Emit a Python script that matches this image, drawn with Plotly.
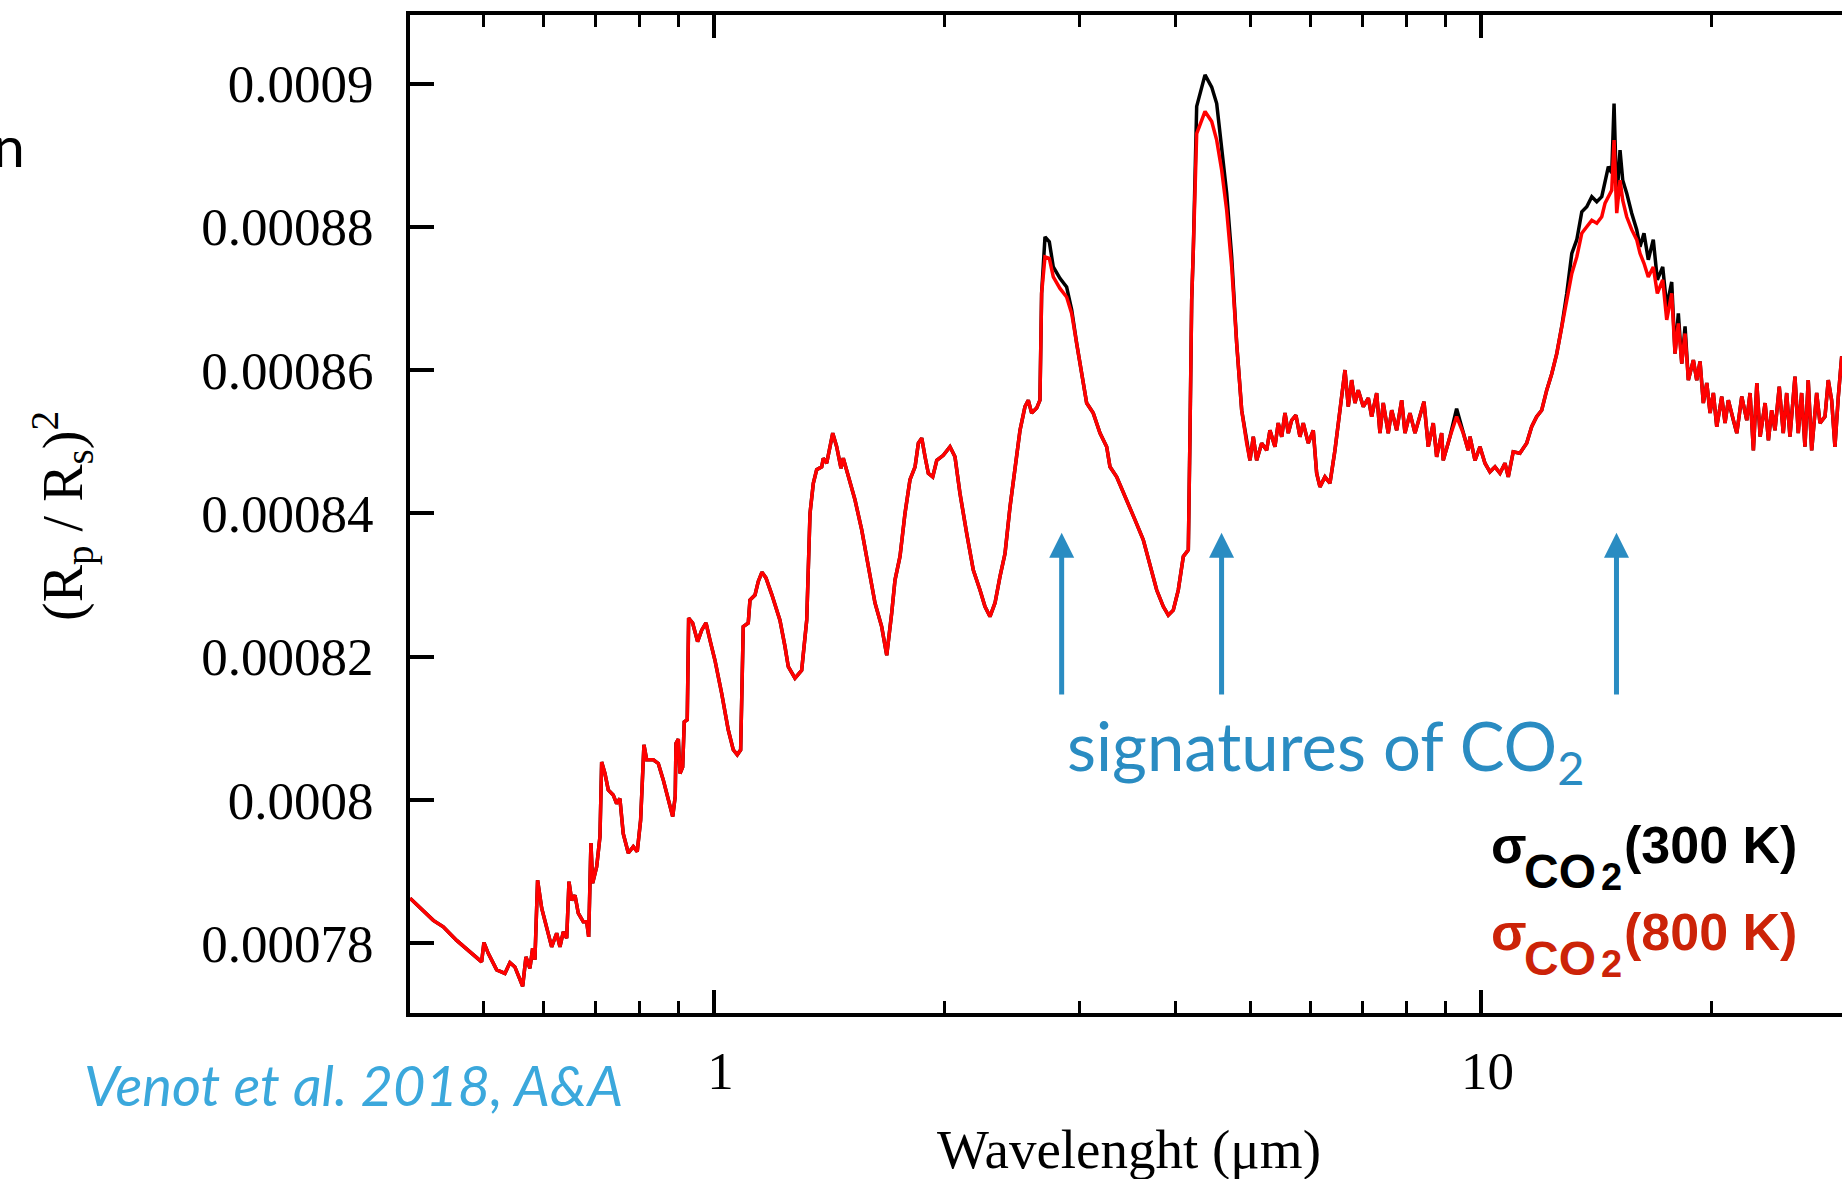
import math
import numpy as np
import plotly.graph_objects as go

# Transit depth spectrum of a warm exoplanet atmosphere computed with two CO2 cross sections
wavelength_um = [
    0.4016, 0.4306, 0.4437, 0.4619, 0.4807, 0.4978, 0.5013, 0.5078, 0.5208, 0.5339,
    0.5420, 0.5501, 0.5631, 0.5687, 0.5755, 0.5802, 0.5842, 0.5889, 0.5962, 0.6052,
    0.6143, 0.6236, 0.6298, 0.6361, 0.6427, 0.6471, 0.6524, 0.6589, 0.6654, 0.6755,
    0.6824, 0.6865, 0.6912, 0.6948, 0.7032, 0.7102, 0.7138, 0.7209, 0.7281, 0.7390,
    0.7466, 0.7540, 0.7616, 0.7732, 0.7849, 0.7943, 0.8024, 0.8104, 0.8171, 0.8335,
    0.8461, 0.8588, 0.8718, 0.8835, 0.8902, 0.8922, 0.8985, 0.9030, 0.9103, 0.9147,
    0.9229, 0.9268, 0.9380, 0.9521, 0.9638, 0.9764, 0.9881, 1.003, 1.0233, 1.0438,
    1.0597, 1.0724, 1.0834, 1.0919, 1.1084, 1.1141, 1.1310, 1.1423, 1.1550, 1.1689,
    1.1902, 1.2190, 1.2377, 1.2500, 1.2753, 1.3012, 1.3211, 1.3342, 1.3475, 1.3612,
    1.3818, 1.3885, 1.4027, 1.4284, 1.4454, 1.4642, 1.4743, 1.4966, 1.5270, 1.5582,
    1.5894, 1.6216, 1.6544, 1.6797, 1.7050, 1.7220, 1.7480, 1.7744, 1.8012, 1.8289,
    1.8471, 1.8659, 1.8845, 1.9032, 1.9284, 1.9521, 1.9907, 2.0310, 2.0617, 2.0927,
    2.1356, 2.1783, 2.2225, 2.2560, 2.2900, 2.3250, 2.3602, 2.3958, 2.4320, 2.4687,
    2.5061, 2.5439, 2.5692, 2.5954, 2.6346, 2.6607, 2.6742, 2.7014, 2.7365, 2.7695,
    2.8255, 2.8826, 2.9268, 2.9710, 3.0158, 3.0613, 3.1224, 3.1863, 3.2509, 3.2833,
    3.3497, 3.4523, 3.5394, 3.6284, 3.7018, 3.7776, 3.8534, 3.9117, 3.9704, 4.0304,
    4.0920, 4.1538, 4.1749, 4.1961, 4.2165, 4.2594, 4.3676, 4.4560, 4.5233, 4.5915,
    4.6609, 4.7315, 4.8030, 4.8756, 4.9493, 4.9987, 5.0484, 5.0999, 5.1770, 5.2552,
    5.3074, 5.3874, 5.4411, 5.4977, 5.5524, 5.6077, 5.6649, 5.7385, 5.8076, 5.8654,
    5.9540, 6.0445, 6.1061, 6.1669, 6.2600, 6.3551, 6.4509, 6.5495, 6.6484, 6.7143,
    6.7827, 6.8502, 6.9183, 7.0243, 7.1302, 7.2029, 7.3114, 7.3842, 7.4577, 7.5703,
    7.6492, 7.7647, 7.8817, 7.9602, 8.0804, 8.2035, 8.3273, 8.4276, 8.5370, 8.6659,
    8.7542, 8.8862, 8.9293, 9.1105, 9.2951, 9.4811, 9.6242, 9.6755, 9.8220, 9.9701,
    10.121, 10.273, 10.430, 10.588, 10.747, 10.854, 11.017, 11.240, 11.470, 11.644,
    11.819, 12.000, 12.182, 12.368, 12.555, 12.744, 12.937, 13.135, 13.333, 13.535,
    13.739, 13.947, 14.157, 14.371, 14.514, 14.659, 14.808, 14.911, 15.032, 15.181,
    15.304, 15.488, 15.723, 15.960, 16.119, 16.313, 16.525, 16.775, 16.981, 17.257,
    17.465, 17.729, 17.906, 18.085, 18.272, 18.454, 18.637, 18.919, 19.112, 19.302,
    19.494, 19.697, 19.893, 20.091, 20.296, 20.602, 20.807, 21.014, 21.332, 21.554,
    21.879, 22.210, 22.431, 22.655, 22.891, 23.119, 23.468, 23.702, 23.933, 24.172,
    24.486, 24.780, 25.036, 25.284, 25.667, 25.922, 26.186, 26.447, 26.710, 26.988,
    27.396, 27.669, 28.087, 28.366, 28.655, 28.940, 29.235, 29.533, 30.0,
]

# (Rp/Rs)^2 in ppm, CO2 cross section at 800 K
depth_800K_ppm = [
    786.3, 783.2, 782.3, 780.4, 778.8, 777.4, 780.1, 778.6, 776.3, 775.8,
    777.3, 776.7, 774.0, 778.1, 776.5, 779.3, 777.7, 788.8, 784.9, 782.3,
    779.5, 781.4, 779.5, 781.6, 780.7, 788.6, 786.0, 786.7, 784.2, 783.0,
    783.0, 780.9, 794.0, 788.4, 790.7, 794.9, 805.3, 803.7, 801.4, 800.7,
    799.5, 800.2, 795.3, 792.6, 793.5, 792.8, 797.2, 807.7, 805.6, 805.6,
    805.1, 802.8, 800.0, 797.7, 800.5, 807.9, 808.5, 803.7, 804.6, 810.9,
    811.2, 825.4, 824.7, 822.1, 823.7, 824.7, 822.3, 819.5, 814.9, 809.8,
    807.0, 806.3, 807.0, 824.2, 824.7, 827.9, 828.6, 830.5, 831.8, 831.0,
    828.6, 825.1, 821.4, 818.6, 817.0, 818.1, 825.1, 840.0, 844.2, 846.1,
    846.5, 847.7, 847.0, 851.2, 849.3, 846.3, 847.7, 845.1, 841.9, 837.7,
    832.6, 827.5, 824.2, 820.2, 826.1, 830.7, 834.0, 840.0, 844.7, 846.5,
    849.8, 850.5, 847.9, 845.6, 845.1, 847.4, 848.1, 849.3, 847.9, 842.8,
    837.2, 832.1, 829.3, 827.0, 825.6, 827.5, 831.2, 834.4, 840.9, 846.5,
    851.6, 854.9, 855.8, 854.0, 854.7, 855.8, 870.7, 875.8, 875.6, 873.0,
    871.4, 870.2, 867.9, 863.7, 859.5, 855.4, 854.0, 851.2, 849.3, 846.5,
    845.1, 841.9, 839.1, 836.3, 832.6, 829.3, 827.0, 825.8, 826.5, 829.3,
    834.0, 834.9, 851.2, 869.8, 876.8, 893.0, 896.1, 894.7, 892.1, 887.9,
    882.3, 874.4, 863.7, 854.4, 849.8, 847.4, 850.7, 847.4, 849.8, 848.8,
    851.6, 849.3, 852.6, 850.7, 854.0, 851.2, 853.0, 853.7, 850.7, 852.6,
    849.8, 851.6, 845.6, 843.7, 845.1, 844.2, 848.8, 854.4, 860.0, 854.9,
    858.6, 855.4, 857.2, 854.9, 856.1, 853.5, 856.8, 851.2, 855.4, 851.2,
    854.4, 851.6, 855.8, 851.2, 854.0, 851.2, 853.5, 855.6, 849.3, 852.6,
    847.9, 851.2, 847.4, 850.7, 853.5, 851.2, 848.8, 850.7, 847.4, 849.3,
    847.0, 845.8, 846.5, 845.6, 847.0, 845.1, 848.6, 848.4, 849.8, 852.1,
    853.5, 854.4, 857.2, 859.5, 862.3, 866.1, 869.3, 873.5, 875.8, 879.1,
    880.0, 880.9, 880.5, 881.4, 883.3, 884.2, 885.1, 892.1, 881.9, 886.5,
    883.7, 881.4, 879.6, 878.2, 876.3, 874.9, 873.0, 874.4, 870.7, 872.6,
    867.0, 870.7, 862.3, 866.5, 860.9, 865.1, 858.6, 861.4, 858.6, 861.2,
    855.4, 858.2, 854.0, 856.8, 852.1, 856.3, 852.6, 855.8, 853.0, 851.2,
    856.3, 853.0, 856.8, 848.8, 858.2, 850.7, 855.4, 850.2, 854.4, 851.6,
    857.7, 851.2, 856.8, 850.7, 859.1, 851.2, 856.8, 849.3, 858.6, 848.8,
    856.8, 852.6, 853.5, 858.6, 855.8, 849.3, 856.3, 861.9, 855.0,
]

# (Rp/Rs)^2 in ppm, CO2 cross section at 300 K
depth_300K_ppm = [
    786.3, 783.2, 782.3, 780.4, 778.8, 777.4, 780.1, 778.6, 776.3, 775.8,
    777.3, 776.7, 774.0, 778.1, 776.5, 779.3, 777.7, 788.8, 784.9, 782.3,
    779.5, 781.4, 779.5, 781.6, 780.7, 788.6, 786.0, 786.7, 784.2, 783.0,
    783.0, 780.9, 794.0, 788.4, 790.7, 794.9, 805.3, 803.7, 801.4, 800.7,
    799.5, 800.2, 795.3, 792.6, 793.5, 792.8, 797.2, 807.7, 805.6, 805.6,
    805.1, 802.8, 800.0, 797.7, 800.5, 807.9, 808.5, 803.7, 804.6, 810.9,
    811.2, 825.4, 824.7, 822.1, 823.7, 824.7, 822.3, 819.5, 814.9, 809.8,
    807.0, 806.3, 807.0, 824.2, 824.7, 827.9, 828.6, 830.5, 831.8, 831.0,
    828.6, 825.1, 821.4, 818.6, 817.0, 818.1, 825.1, 840.0, 844.2, 846.1,
    846.5, 847.7, 847.0, 851.2, 849.3, 846.3, 847.7, 845.1, 841.9, 837.7,
    832.6, 827.5, 824.2, 820.2, 826.1, 830.7, 834.0, 840.0, 844.7, 846.5,
    849.8, 850.5, 847.9, 845.6, 845.1, 847.4, 848.1, 849.3, 847.9, 842.8,
    837.2, 832.1, 829.3, 827.0, 825.6, 827.5, 831.2, 834.4, 840.9, 846.5,
    851.6, 854.9, 855.8, 854.0, 854.7, 855.8, 870.7, 878.6, 877.9, 874.4,
    872.8, 871.6, 868.4, 863.7, 859.5, 855.4, 854.0, 851.2, 849.3, 846.5,
    845.1, 841.9, 839.1, 836.3, 832.6, 829.3, 827.0, 825.8, 826.5, 829.3,
    834.0, 834.9, 851.2, 869.8, 876.8, 896.8, 901.2, 899.5, 897.2, 891.2,
    884.7, 875.8, 863.7, 854.4, 849.8, 847.4, 850.7, 847.4, 849.8, 848.8,
    851.6, 849.3, 852.6, 850.7, 854.0, 851.2, 853.0, 853.7, 850.7, 852.6,
    849.8, 851.6, 845.6, 843.7, 845.1, 844.2, 848.8, 854.4, 860.0, 854.9,
    858.6, 855.4, 857.2, 854.9, 856.1, 853.5, 856.8, 851.2, 855.4, 851.2,
    854.4, 851.6, 855.8, 851.2, 854.0, 851.2, 853.5, 855.6, 849.3, 852.6,
    847.9, 851.2, 847.4, 850.7, 854.6, 851.2, 848.8, 850.7, 847.4, 849.3,
    847.0, 845.8, 846.5, 845.6, 847.0, 845.1, 848.6, 848.4, 849.8, 852.1,
    853.5, 854.4, 857.2, 859.5, 862.3, 866.1, 870.7, 876.3, 878.2, 882.1,
    882.8, 884.2, 883.5, 884.2, 886.1, 888.4, 887.5, 897.2, 883.7, 890.7,
    886.5, 884.7, 881.9, 879.6, 877.2, 879.1, 875.4, 878.2, 872.6, 874.4,
    868.8, 872.3, 862.3, 867.9, 860.9, 866.1, 858.6, 861.4, 858.6, 861.2,
    855.4, 858.2, 854.0, 856.8, 852.1, 856.3, 852.6, 855.8, 853.0, 851.2,
    856.3, 853.0, 856.8, 848.8, 858.2, 850.7, 855.4, 850.2, 854.4, 851.6,
    857.7, 851.2, 856.8, 850.7, 859.1, 851.2, 856.8, 849.3, 858.6, 848.8,
    856.8, 852.6, 853.5, 858.6, 855.8, 849.3, 856.3, 861.9, 855.0,
]

y_tick_values = [0.00078, 0.0008, 0.00082, 0.00084, 0.00086, 0.00088, 0.0009]
y_tick_text = ["0.00078", "0.0008", "0.00082", "0.00084", "0.00086", "0.00088", "0.0009"]
x_major_ticks = [1, 10]
x_major_text = ["\u00a01", "\u00a010"]
x_minor_ticks = [0.5, 0.6, 0.7, 0.8, 0.9, 2, 3, 4, 5, 6, 7, 8, 9, 20]

# CO2 absorption bands marked with arrows (micron)
co2_bands_um = [2.84, 4.59, 15.02]

PPM = 1e-6
y_800 = np.array(depth_800K_ppm) * PPM
y_300 = np.array(depth_300K_ppm) * PPM

W, H = 1842, 1179
M_L, M_R, M_T, M_B = 410, 0, 15, 166
PLOT_W = W - M_L - M_R
PLOT_H = H - M_T - M_B
X_RANGE = [-0.3963, 1.4707]
Y_RANGE = [0.00077027, 0.00090956]

SERIF = "Liberation Serif, Times New Roman, serif"
SANS = "Liberation Sans, Arial, sans-serif"
HUMANIST = "Lato, Open Sans, sans-serif"
BLUE = "#2A8CC2"
LIGHT_BLUE = "#3BA8DC"
LABEL_RED = "#CC2308"


def px_x(px):
    return (px - M_L) / PLOT_W


def px_y(py):
    return (H - M_B - py) / PLOT_H


fig = go.Figure()
fig.add_trace(go.Scatter(
    x=wavelength_um, y=y_300, mode="lines",
    line=dict(color="#000000", width=3.5), hoverinfo="skip", showlegend=False,
))
fig.add_trace(go.Scatter(
    x=wavelength_um, y=y_800, mode="lines",
    line=dict(color="#FF0000", width=3.5), hoverinfo="skip", showlegend=False,
))

annotations = []

# arrows under the CO2 bands
ARROW_TIP = 837.3 * PPM
ARROW_TAIL = 814.5 * PPM
for band in co2_bands_um:
    annotations.append(dict(
        x=math.log10(band), y=ARROW_TIP, xref="x", yref="y",
        ax=math.log10(band), ay=ARROW_TAIL, axref="x", ayref="y",
        text="", showarrow=True, arrowhead=2, arrowsize=1, arrowwidth=5,
        arrowcolor=BLUE, standoff=0, startstandoff=0,
    ))

annotations.append(dict(
    x=px_x(1065), y=px_y(750), xref="paper", yref="paper",
    xanchor="left", yanchor="middle", showarrow=False,
    text="signatures of CO<sub>2</sub>",
    font=dict(family=HUMANIST, size=67, color=BLUE),
))

annotations.append(dict(
    x=px_x(82), y=px_y(1084), xref="paper", yref="paper",
    xanchor="left", yanchor="middle", showarrow=False,
    text="<i>Venot et al. 2018, A&amp;A</i>",
    font=dict(family=HUMANIST, size=56, color=LIGHT_BLUE),
))

annotations.append(dict(
    x=px_x(27), y=px_y(145), xref="paper", yref="paper",
    xanchor="right", yanchor="middle", showarrow=False,
    text="n", font=dict(family=HUMANIST, size=57, color="#000000"),
))

# axis titles
annotations.append(dict(
    x=px_x(1129), y=px_y(1149), xref="paper", yref="paper",
    xanchor="center", yanchor="middle", showarrow=False,
    text="Wavelenght (μm)", font=dict(family=SERIF, size=55, color="#000000"),
))
annotations.append(dict(
    x=px_x(62), y=px_y(516), xref="paper", yref="paper",
    xanchor="center", yanchor="middle", showarrow=False, textangle=-90,
    text="(R<sub>p</sub> / R<sub>s</sub>)<sup>2</sup>",
    font=dict(family=SERIF, size=56, color="#000000"),
))

# labels for the two cross sections
for temp, color, dy in [("300 K", "#000000", 0), ("800 K", LABEL_RED, 87)]:
    parts = [
        ("σ", 1489, 845 + dy, 52),
        ("CO", 1522, 871 + dy, 48),
        ("2", 1599, 877 + dy, 38),
        ("(" + temp + ")", 1622, 845 + dy, 52),
    ]
    for txt, x0, yc, fs in parts:
        annotations.append(dict(
            x=px_x(x0), y=px_y(yc), xref="paper", yref="paper",
            xanchor="left", yanchor="middle", showarrow=False,
            text="<b>" + txt + "</b>",
            font=dict(family=SANS, size=fs, color=color),
        ))

fig.update_layout(
    width=W, height=H,
    margin=dict(l=M_L, r=M_R, t=M_T, b=M_B, pad=0),
    paper_bgcolor="white", plot_bgcolor="white",
    showlegend=False,
    annotations=annotations,
    xaxis=dict(
        type="log", range=X_RANGE,
        showline=True, linewidth=4, linecolor="black", mirror="allticks",
        showgrid=False, zeroline=False,
        ticks="inside", ticklen=23, tickwidth=3.5, tickcolor="black",
        tickvals=x_major_ticks, ticktext=x_major_text,
        tickfont=dict(family=SERIF, size=53, color="black"),
        ticklabelstandoff=8,
        minor=dict(tickvals=x_minor_ticks, ticks="inside", ticklen=12,
                   tickwidth=3, tickcolor="black", showgrid=False),
    ),
    yaxis=dict(
        range=Y_RANGE,
        showline=True, linewidth=4, linecolor="black", mirror=False,
        showgrid=False, zeroline=False,
        ticks="inside", ticklen=24, tickwidth=3.5, tickcolor="black",
        tickvals=y_tick_values, ticktext=y_tick_text,
        tickfont=dict(family=SERIF, size=53, color="black"),
        ticklabelstandoff=22,
    ),
    yaxis2=dict(
        range=Y_RANGE, overlaying="y", side="right",
        showline=False, showgrid=False, zeroline=False,
        ticks="inside", ticklen=17, tickwidth=3.5, tickcolor="black",
        tickvals=y_tick_values, showticklabels=False,
    ),
)

fig.write_html("out.html")
